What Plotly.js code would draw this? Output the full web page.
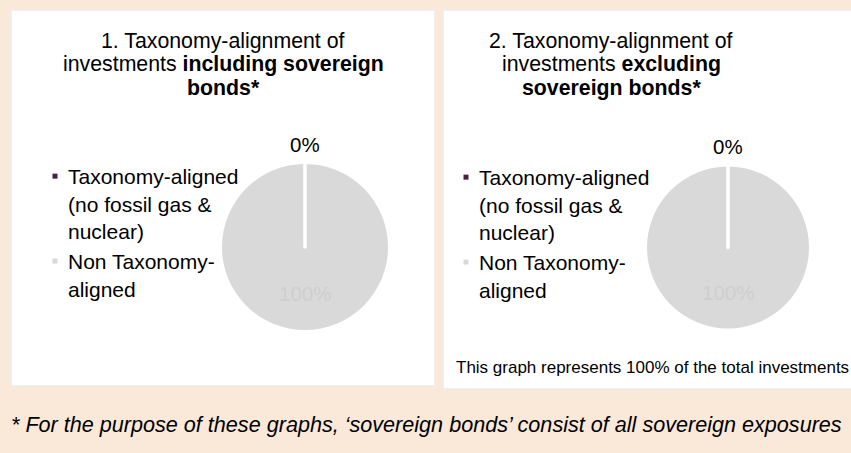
<!DOCTYPE html>
<html>
<head>
<meta charset="utf-8">
<script src="https://cdn.plot.ly/plotly-3.0.1.min.js"></script>
<style>
  html, body { margin: 0; padding: 0; background: #FAE8D8; }
  #chart { width: 851px; height: 453px; }
</style>
</head>
<body>
<div id="chart"></div>
<script>
// ---- data ----
const categories = ['Taxonomy-aligned<br>(no fossil gas &<br>nuclear)', 'Non Taxonomy-<br>aligned'];
const valuesIncluding = [0, 100];
const valuesExcluding = [0, 100];
const sliceColors = ['#4B1F41', '#D9D9D9'];
const titleLines1 = ['1. Taxonomy-alignment of', 'investments <b>including sovereign</b>', '<b>bonds*</b>'];
const titleLines2 = ['2. Taxonomy-alignment of', 'investments <b>excluding</b>', '<b>sovereign bonds*</b>'];
const coverageNote = 'This graph represents 100% of the total investments';
const footnote = '* For the purpose of these graphs, \u2018sovereign bonds\u2019 consist of all sovereign exposures';

// ---- layout helpers (pixel -> paper) ----
const W = 851, H = 453;
const px = x => x / W;
const py = y => 1 - y / H;
const FONT = 'Liberation Sans, Arial, sans-serif';

const pies = [
  { values: valuesIncluding, cx: 305, cy: 247, r: 83, legend: 'legend', suffix: '' },
  { values: valuesExcluding, cx: 728, cy: 247.5, r: 81, legend: 'legend2', suffix: '\u200B' }
];

const traces = pies.map(p => ({
  type: 'pie',
  labels: categories.map(c => c + p.suffix),
  values: p.values,
  sort: true,
  direction: 'clockwise',
  rotation: 0,
  textinfo: 'none',
  hoverinfo: 'label+percent',
  marker: { colors: sliceColors, line: { color: '#FFFFFF', width: [3.5, 0] } },
  domain: { x: [px(p.cx - p.r), px(p.cx + p.r)], y: [py(p.cy + p.r), py(p.cy - p.r)] },
  legend: p.legend,
  showlegend: true
}));

const annotations = [];
function addText(text, x, y, size, color, extra) {
  annotations.push(Object.assign({ text: text, x: px(x), y: py(y), xref: 'paper', yref: 'paper',
    xanchor: 'center', yanchor: 'middle', align: 'center', showarrow: false,
    font: { family: FONT, size: size, color: color } }, extra || {}));
}
// titles, one line each for tighter line spacing
const titleY = [40.5, 64, 87.5];
titleLines1.forEach((t, i) => addText(t, 223, titleY[i], 21.3, '#000'));
titleLines2.forEach((t, i) => addText(t, 611, titleY[i], 21.3, '#000'));
// slice percent labels
pies.forEach(p => {
  const total = p.values.reduce((a, b) => a + b, 0);
  const pct = p.values.map(v => Math.round(v / total * 100) + '%');
  addText(pct[0], p.cx, p.cy - p.r - 20, 20.5, '#000');
  addText(pct[1], p.cx, p.cy + p.r * 0.56, 20.5, '#CFCFCF');
});
// notes
addText(coverageNote, 652, 367, 17, '#000');
addText('<i>' + footnote + '</i>', 426, 424, 21.6, '#000');

const legendCommon = {
  orientation: 'v', xanchor: 'left', yanchor: 'top', valign: 'top',
  bgcolor: 'rgba(0,0,0,0)', borderwidth: 0, traceorder: 'reversed',
  font: { family: FONT, size: 21, color: '#000' }
};

const layout = {
  width: W, height: H,
  margin: { l: 0, r: 0, t: 0, b: 0 },
  paper_bgcolor: '#FAE8D8',
  plot_bgcolor: '#FAE8D8',
  showlegend: true,
  legend: Object.assign({}, legendCommon, { x: px(28), y: py(156) }),
  legend2: Object.assign({}, legendCommon, { x: px(439), y: py(157) }),
  shapes: [
    { type: 'rect', xref: 'paper', yref: 'paper', x0: px(11), x1: px(435), y0: py(386), y1: py(10),
      fillcolor: '#FFFFFF', line: { color: '#ECECEC', width: 1.5 }, layer: 'below' },
    { type: 'rect', xref: 'paper', yref: 'paper', x0: px(443), x1: px(852), y0: py(389), y1: py(10),
      fillcolor: '#FFFFFF', line: { color: '#ECECEC', width: 1.5 }, layer: 'below' }
  ],
  annotations: annotations
};

Plotly.newPlot('chart', traces, layout, { displayModeBar: false, responsive: false }).then(gd => {
  // smaller legend swatches, closer to the text
  gd.querySelectorAll('path.legendpie').forEach(el => {
    el.setAttribute('d', 'M2.5,2.5H-2.5V-2.5H2.5Z');
    el.setAttribute('transform', 'translate(27,0)');
    el.style.strokeWidth = '0px';
  });
});
</script>
</body>
</html>
